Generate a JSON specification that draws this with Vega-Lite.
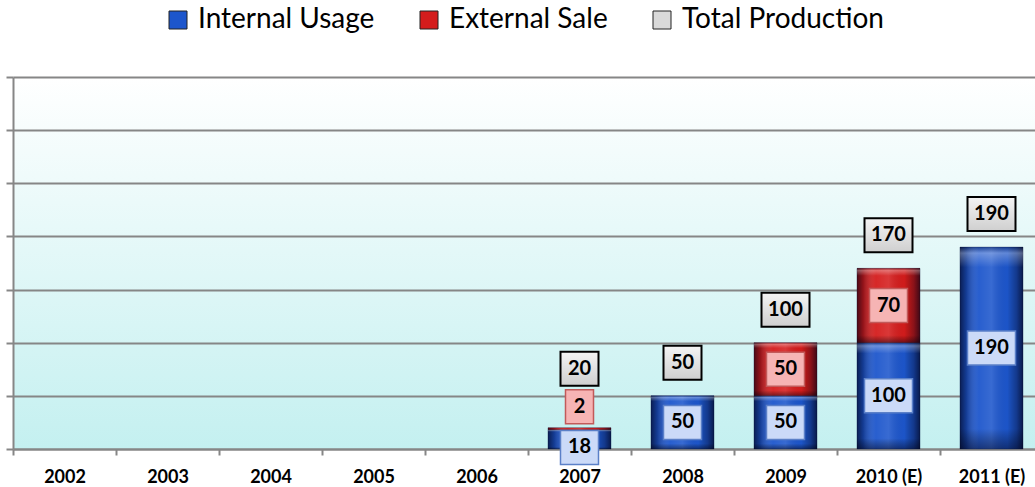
{
  "$schema": "https://vega.github.io/schema/vega-lite/v6.json",
  "width": 1030,
  "height": 372,
  "autosize": "none",
  "padding": {"left": 13, "top": 77, "right": -8, "bottom": 38},
  "background": "white",
  "datasets": {
    "parts": [
      {"year": "2007", "series": "Internal Usage", "value": 18},
      {"year": "2007", "series": "External Sale", "value": 2},
      {"year": "2008", "series": "Internal Usage", "value": 50},
      {"year": "2009", "series": "Internal Usage", "value": 50},
      {"year": "2009", "series": "External Sale", "value": 50},
      {"year": "2010 (E)", "series": "Internal Usage", "value": 100},
      {"year": "2010 (E)", "series": "External Sale", "value": 70},
      {"year": "2011 (E)", "series": "Internal Usage", "value": 190}
    ],
    "totals": [
      {"year": "2007", "total": 20},
      {"year": "2008", "total": 50},
      {"year": "2009", "total": 100},
      {"year": "2010 (E)", "total": 170},
      {"year": "2011 (E)", "total": 190}
    ]
  },
  "config": {
    "font": "Lato",
    "view": {
      "stroke": null,
      "fill": {
        "gradient": "linear", "x1": 0, "y1": 0, "x2": 0, "y2": 1,
        "stops": [{"offset": 0, "color": "#ffffff"}, {"offset": 1, "color": "#c4f0f0"}]
      }
    },
    "axisY": {
      "labels": false, "title": null, "grid": true, "gridColor": "#868686", "gridWidth": 2,
      "domainColor": "#868686", "domainWidth": 2, "tickColor": "#868686", "tickWidth": 2, "tickSize": 7,
      "tickCount": 7
    },
    "axisX": {
      "title": null, "grid": false, "labelFont": "Lato", "labelFontWeight": "bold", "labelFontSize": 18,
      "labelColor": "#000000", "labelPadding": 13, "labelAngle": 0, "tickSize": 6, "tickColor": "#868686",
      "tickWidth": 2, "domainColor": "#868686", "domainWidth": 2, "tickBand": "extent"
    }
  },
  "encoding": {
    "x": {
      "field": "year", "type": "nominal", "sort": null,
      "scale": {"domain": ["2002", "2003", "2004", "2005", "2006", "2007", "2008", "2009", "2010 (E)", "2011 (E)"], "paddingInner": 0, "paddingOuter": 0}
    }
  },
  "layer": [
    {
      "data": {"name": "parts"},
      "transform": [
        {"stack": "value", "groupby": ["year"], "sort": [{"field": "series", "order": "descending"}], "as": ["v0", "v1"]},
        {"calculate": "(datum.v0 + datum.v1) / 2", "as": "mid"}
      ],
      "layer": [
        {
          "mark": {"type": "bar", "width": {"band": 0.612}, "stroke": "#0a1440", "strokeWidth": 0.5, "strokeOpacity": 0.6},
          "encoding": {
            "y": {"field": "v1", "type": "quantitative", "title": null, "scale": {"domain": [0, 350], "nice": false}},
            "y2": {"field": "v0"},
            "color": {
              "field": "series", "type": "nominal",
              "scale": {"domain": ["Internal Usage", "External Sale", "Total Production"], "range": ["#1d56cc", "#d41c1c", "#d9d9d9"]},
              "legend": {
                "orient": "none", "legendX": 151, "legendY": -71, "direction": "horizontal", "title": null,
                "padding": 0, "labelFont": "Lato", "labelFontSize": 28, "labelColor": "#000000", "labelLimit": 400,
                "symbolType": "square", "symbolSize": 324, "symbolStrokeColor": "#222222", "symbolStrokeWidth": 1,
                "symbolOpacity": 1, "labelOffset": 6, "columnPadding": 40
              }
            }
          }
        },
        {
          "mark": {
            "type": "bar", "width": {"band": 0.612},
            "fill": {
              "gradient": "linear", "x1": 0, "y1": 0, "x2": 1, "y2": 0,
              "stops": [
                {"offset": 0, "color": "rgba(0,0,20,0.65)"},
                {"offset": 0.1, "color": "rgba(0,0,20,0.3)"},
                {"offset": 0.3, "color": "rgba(255,255,255,0.05)"},
                {"offset": 0.5, "color": "rgba(255,255,255,0.12)"},
                {"offset": 0.75, "color": "rgba(0,0,0,0.02)"},
                {"offset": 0.9, "color": "rgba(0,0,20,0.35)"},
                {"offset": 1, "color": "rgba(0,0,20,0.7)"}
              ]
            }
          },
          "encoding": {
            "y": {"field": "v1", "type": "quantitative", "title": null},
            "y2": {"field": "v0"}
          }
        },
        {
          "mark": {
            "type": "bar", "width": {"band": 0.612},
            "fill": {
              "gradient": "linear", "x1": 0, "y1": 0, "x2": 0, "y2": 1,
              "stops": [
                {"offset": 0, "color": "rgba(0,0,20,0.3)"},
                {"offset": 0.03, "color": "rgba(255,255,255,0.3)"},
                {"offset": 0.1, "color": "rgba(255,255,255,0)"},
                {"offset": 0.9, "color": "rgba(0,0,0,0)"},
                {"offset": 1, "color": "rgba(0,0,20,0.45)"}
              ]
            }
          },
          "encoding": {
            "y": {"field": "v1", "type": "quantitative", "title": null},
            "y2": {"field": "v0"}
          }
        },
        {
          "transform": [{"filter": "datum.year !== '2007'"}],
          "layer": [
            {
              "mark": {"type": "point", "filled": true, "size": 4, "opacity": 1, "strokeWidth": 1.5},
              "encoding": {
                "y": {"field": "mid", "type": "quantitative", "title": null},
                "shape": {"condition": {"test": "datum.value >= 100", "value": "M-24,-17H24V17H-24Z"}, "value": "M-19,-17H19V17H-19Z"},
                "fill": {"condition": {"test": "datum.series === 'Internal Usage'", "value": "#cbdaf8"}, "value": "#f6b4b4"},
                "stroke": {"condition": {"test": "datum.series === 'Internal Usage'", "value": "#5b80c8"}, "value": "#c25a5a"}
              }
            },
            {
              "mark": {"type": "text", "font": "Lato", "fontWeight": "bold", "fontSize": 20, "color": "#000000", "align": "center", "baseline": "middle"},
              "encoding": {
                "y": {"field": "mid", "type": "quantitative", "title": null},
                "text": {"field": "value", "type": "quantitative"}
              }
            }
          ]
        },
        {
          "transform": [{"filter": "datum.year === '2007' && datum.series === 'Internal Usage'"}],
          "layer": [
            {
              "mark": {"type": "point", "filled": true, "size": 4, "opacity": 1, "strokeWidth": 1.5, "yOffset": 8, "fill": "#cbdaf8", "stroke": "#5b80c8", "shape": "M-19,-17H19V17H-19Z"},
              "encoding": {"y": {"field": "mid", "type": "quantitative", "title": null}}
            },
            {
              "mark": {"type": "text", "font": "Lato", "fontWeight": "bold", "fontSize": 20, "color": "#000000", "align": "center", "baseline": "middle", "yOffset": 8},
              "encoding": {
                "y": {"field": "mid", "type": "quantitative", "title": null},
                "text": {"field": "value", "type": "quantitative"}
              }
            }
          ]
        },
        {
          "transform": [{"filter": "datum.year === '2007' && datum.series === 'External Sale'"}],
          "layer": [
            {
              "mark": {"type": "point", "filled": true, "size": 4, "opacity": 1, "strokeWidth": 1.5, "yOffset": -22, "fill": "#f6b4b4", "stroke": "#c25a5a", "shape": "M-14,-17H14V17H-14Z"},
              "encoding": {"y": {"field": "mid", "type": "quantitative", "title": null}}
            },
            {
              "mark": {"type": "text", "font": "Lato", "fontWeight": "bold", "fontSize": 20, "color": "#000000", "align": "center", "baseline": "middle", "yOffset": -22},
              "encoding": {
                "y": {"field": "mid", "type": "quantitative", "title": null},
                "text": {"field": "value", "type": "quantitative"}
              }
            }
          ]
        }
      ]
    },
    {
      "data": {"name": "totals"},
      "layer": [
        {
          "transform": [{"filter": "datum.year !== '2007'"}],
          "layer": [
            {
              "mark": {
                "type": "point", "filled": true, "size": 4, "opacity": 1, "stroke": "#000000", "strokeWidth": 2, "yOffset": -33,
                "fill": {
                  "gradient": "linear", "x1": 0, "y1": 0, "x2": 0, "y2": 1,
                  "stops": [{"offset": 0, "color": "#f4f4f4"}, {"offset": 1, "color": "#cfcfcf"}]
                }
              },
              "encoding": {
                "y": {"field": "total", "type": "quantitative", "title": null},
                "shape": {"condition": {"test": "datum.total >= 100", "value": "M-24,-17H24V17H-24Z"}, "value": "M-19,-17H19V17H-19Z"}
              }
            },
            {
              "mark": {"type": "text", "font": "Lato", "fontWeight": "bold", "fontSize": 20, "color": "#000000", "align": "center", "baseline": "middle", "yOffset": -33},
              "encoding": {
                "y": {"field": "total", "type": "quantitative", "title": null},
                "text": {"field": "total", "type": "quantitative"}
              }
            }
          ]
        },
        {
          "transform": [{"filter": "datum.year === '2007'"}],
          "layer": [
            {
              "mark": {
                "type": "point", "filled": true, "size": 4, "opacity": 1, "stroke": "#000000", "strokeWidth": 2, "yOffset": -59,
                "shape": "M-19,-17H19V17H-19Z",
                "fill": {
                  "gradient": "linear", "x1": 0, "y1": 0, "x2": 0, "y2": 1,
                  "stops": [{"offset": 0, "color": "#f4f4f4"}, {"offset": 1, "color": "#cfcfcf"}]
                }
              },
              "encoding": {"y": {"field": "total", "type": "quantitative", "title": null}}
            },
            {
              "mark": {"type": "text", "font": "Lato", "fontWeight": "bold", "fontSize": 20, "color": "#000000", "align": "center", "baseline": "middle", "yOffset": -59},
              "encoding": {
                "y": {"field": "total", "type": "quantitative", "title": null},
                "text": {"field": "total", "type": "quantitative"}
              }
            }
          ]
        }
      ]
    }
  ]
}
